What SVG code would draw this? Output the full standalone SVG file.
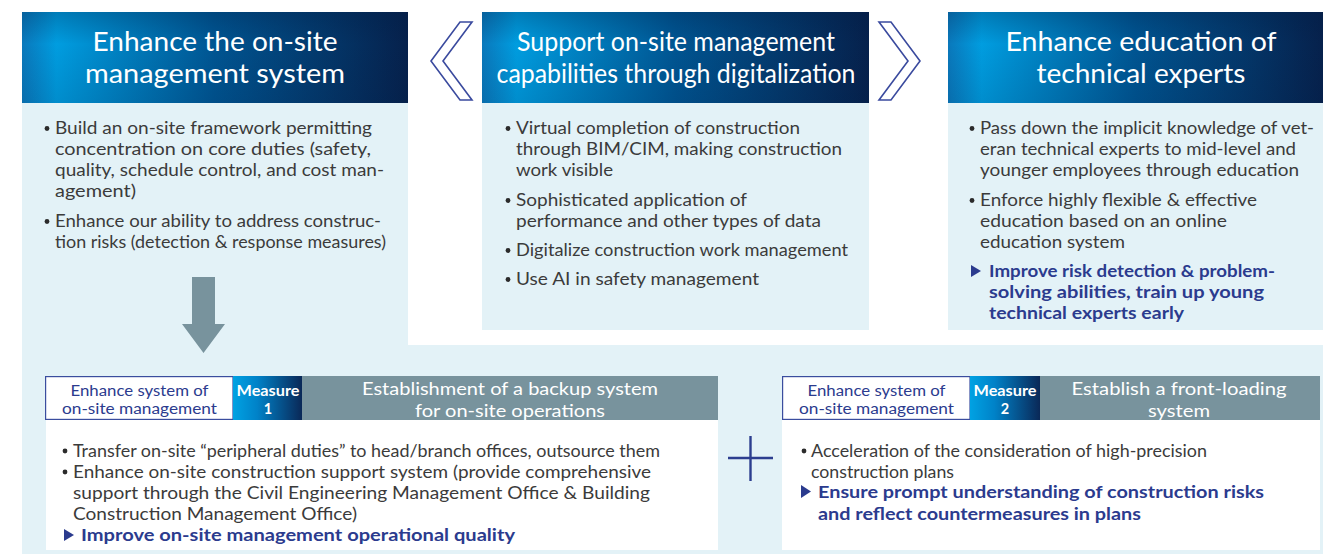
<svg xmlns="http://www.w3.org/2000/svg" width="1323" height="554" viewBox="0 0 1323 554">
  <defs>
    <linearGradient id="hdrGrad" x1="0" y1="0" x2="1" y2="0">
      <stop offset="0" stop-color="#0a78bb"/>
      <stop offset="0.09" stop-color="#009de0"/>
      <stop offset="0.5" stop-color="#005592"/>
      <stop offset="1" stop-color="#06214c"/>
    </linearGradient>
    <linearGradient id="hdrShade" x1="0" y1="0" x2="0" y2="1">
      <stop offset="0" stop-color="#001a40" stop-opacity="0.25"/>
      <stop offset="0.35" stop-color="#001a40" stop-opacity="0"/>
      <stop offset="1" stop-color="#001a40" stop-opacity="0.12"/>
    </linearGradient>
    <linearGradient id="measGrad" x1="0" y1="0" x2="1" y2="0">
      <stop offset="0" stop-color="#00a2e3"/>
      <stop offset="0.35" stop-color="#0082c8"/>
      <stop offset="1" stop-color="#0a2857"/>
    </linearGradient>
    <style>
      .panel { fill: #e3f2f7; }
      .hdr-title { font-family: Lato, "Open Sans", sans-serif; font-size: 26.5px; fill: #ffffff; text-anchor: middle; }
      .body { font-family: Lato, "Open Sans", sans-serif; font-size: 17px; fill: #3b3b3b; }
      .strong { font-family: Lato, "Open Sans", sans-serif; font-size: 17px; font-weight: bold; fill: #2b3b8e; }
      .tag { fill: #ffffff; stroke: #3a4d9e; stroke-width: 1.2; }
      .tag-text { font-family: Lato, "Open Sans", sans-serif; font-size: 14.5px; fill: #2b3b8e; text-anchor: middle; }
      .meas-text { font-family: Lato, "Open Sans", sans-serif; font-size: 14.5px; font-weight: bold; fill: #ffffff; text-anchor: middle; }
      .bar { fill: #78939d; }
      .bar-text { font-family: Lato, "Open Sans", sans-serif; font-size: 18px; fill: #ffffff; text-anchor: middle; }
      .card { fill: #ffffff; }
      .dot { fill: #2b2b2b; }
      .tri { fill: #2b3b8e; }
      .chev { fill: #ffffff; stroke: #3a4a9e; stroke-width: 1.6; stroke-linejoin: miter; }
      .fit { }
    </style>
  </defs>

  <!-- light background panels -->
  <rect class="panel" x="22" y="103" width="386" height="243"/>
  <rect class="panel" x="482" y="103" width="387" height="227"/>
  <rect class="panel" x="948" y="103" width="375" height="227"/>
  <rect class="panel" x="22" y="345" width="1301" height="209"/>

  <!-- Top column 1 -->
  <g id="onsite-system">
    <rect x="22" y="12" width="386" height="91" fill="url(#hdrGrad)"/>
    <rect x="22" y="12" width="386" height="91" fill="url(#hdrShade)"/>
    <text class="hdr-title" x="215" y="51" textLength="245" lengthAdjust="spacingAndGlyphs">Enhance the on-site</text>
    <text class="hdr-title" x="215" y="83" textLength="260" lengthAdjust="spacingAndGlyphs">management system</text>
    <circle class="dot" cx="47" cy="128.5" r="2.4"/>
    <text class="body" x="55" y="134" textLength="317" lengthAdjust="spacingAndGlyphs">Build an on-site framework permitting</text>
    <text class="body" x="55" y="155" textLength="316" lengthAdjust="spacingAndGlyphs">concentration on core duties (safety,</text>
    <text class="body" x="55" y="176" textLength="329" lengthAdjust="spacingAndGlyphs">quality, schedule control, and cost man-</text>
    <text class="body" x="55" y="197" textLength="81" lengthAdjust="spacingAndGlyphs">agement)</text>
    <circle class="dot" cx="47" cy="221.5" r="2.4"/>
    <text class="body" x="55" y="227" textLength="326" lengthAdjust="spacingAndGlyphs">Enhance our ability to address construc-</text>
    <text class="body" x="55" y="248" textLength="331" lengthAdjust="spacingAndGlyphs">tion risks (detection &amp; response measures)</text>
  </g>

  <!-- Top column 2 -->
  <g id="digitalization">
    <rect x="482" y="12" width="387" height="91" fill="url(#hdrGrad)"/>
    <rect x="482" y="12" width="387" height="91" fill="url(#hdrShade)"/>
    <text class="hdr-title" x="676" y="51" textLength="318" lengthAdjust="spacingAndGlyphs">Support on-site management</text>
    <text class="hdr-title" x="676" y="83" textLength="359" lengthAdjust="spacingAndGlyphs">capabilities through digitalization</text>
    <circle class="dot" cx="508" cy="128.5" r="2.4"/>
    <text class="body" x="516" y="134" textLength="284" lengthAdjust="spacingAndGlyphs">Virtual completion of construction</text>
    <text class="body" x="516" y="155" textLength="326" lengthAdjust="spacingAndGlyphs">through BIM/CIM, making construction</text>
    <text class="body" x="516" y="176" textLength="97" lengthAdjust="spacingAndGlyphs">work visible</text>
    <circle class="dot" cx="508" cy="200.5" r="2.4"/>
    <text class="body" x="516" y="206" textLength="231" lengthAdjust="spacingAndGlyphs">Sophisticated application of</text>
    <text class="body" x="516" y="227" textLength="305" lengthAdjust="spacingAndGlyphs">performance and other types of data</text>
    <circle class="dot" cx="508" cy="250.5" r="2.4"/>
    <text class="body" x="516" y="256" textLength="332" lengthAdjust="spacingAndGlyphs">Digitalize construction work management</text>
    <circle class="dot" cx="508" cy="279.5" r="2.4"/>
    <text class="body" x="516" y="285" textLength="243" lengthAdjust="spacingAndGlyphs">Use AI in safety management</text>
  </g>

  <!-- Top column 3 -->
  <g id="experts-education">
    <rect x="948" y="12" width="375" height="91" fill="url(#hdrGrad)"/>
    <rect x="948" y="12" width="375" height="91" fill="url(#hdrShade)"/>
    <text class="hdr-title" x="1141" y="51" textLength="271" lengthAdjust="spacingAndGlyphs">Enhance education of</text>
    <text class="hdr-title" x="1141" y="83" textLength="209" lengthAdjust="spacingAndGlyphs">technical experts</text>
    <circle class="dot" cx="972" cy="128.5" r="2.4"/>
    <text class="body" x="980" y="134" textLength="334" lengthAdjust="spacingAndGlyphs">Pass down the implicit knowledge of vet-</text>
    <text class="body" x="980" y="155" textLength="316" lengthAdjust="spacingAndGlyphs">eran technical experts to mid-level and</text>
    <text class="body" x="980" y="176" textLength="319" lengthAdjust="spacingAndGlyphs">younger employees through education</text>
    <circle class="dot" cx="972" cy="200.5" r="2.4"/>
    <text class="body" x="980" y="206" textLength="277" lengthAdjust="spacingAndGlyphs">Enforce highly flexible &amp; effective</text>
    <text class="body" x="980" y="227" textLength="247" lengthAdjust="spacingAndGlyphs">education based on an online</text>
    <text class="body" x="980" y="248" textLength="145" lengthAdjust="spacingAndGlyphs">education system</text>
    <polygon class="tri" points="971,265 981,271 971,277"/>
    <text class="strong" x="989" y="277" textLength="286" lengthAdjust="spacingAndGlyphs">Improve risk detection &amp; problem-</text>
    <text class="strong" x="989" y="298" textLength="275" lengthAdjust="spacingAndGlyphs">solving abilities, train up young</text>
    <text class="strong" x="989" y="319" textLength="195" lengthAdjust="spacingAndGlyphs">technical experts early</text>
  </g>

  <!-- Measure 1 card -->
  <g id="measure-1">
    <rect class="card" x="46" y="420" width="672" height="130"/>
    <rect class="tag" x="45.6" y="376.6" width="187.4" height="42.8"/>
    <text class="tag-text" x="139.5" y="396" textLength="138" lengthAdjust="spacingAndGlyphs">Enhance system of</text>
    <text class="tag-text" x="139.5" y="414" textLength="155" lengthAdjust="spacingAndGlyphs">on-site management</text>
    <rect x="233" y="376" width="69" height="44" fill="url(#measGrad)"/>
    <text class="meas-text" x="268" y="396" textLength="63" lengthAdjust="spacingAndGlyphs">Measure</text>
    <text class="meas-text" x="268" y="414">1</text>
    <rect class="bar" x="302" y="376" width="416" height="44"/>
    <text class="bar-text" x="510" y="395" textLength="296" lengthAdjust="spacingAndGlyphs">Establishment of a backup system</text>
    <text class="bar-text" x="510" y="417" textLength="190" lengthAdjust="spacingAndGlyphs">for on-site operations</text>
    <circle class="dot" cx="65" cy="451" r="2.4"/>
    <text class="body" x="73" y="457" textLength="587" lengthAdjust="spacingAndGlyphs">Transfer on-site “peripheral duties” to head/branch offices, outsource them</text>
    <circle class="dot" cx="65" cy="472" r="2.4"/>
    <text class="body" x="73" y="478" textLength="578" lengthAdjust="spacingAndGlyphs">Enhance on-site construction support system (provide comprehensive</text>
    <text class="body" x="73" y="499" textLength="577" lengthAdjust="spacingAndGlyphs">support through the Civil Engineering Management Office &amp; Building</text>
    <text class="body" x="73" y="520" textLength="284" lengthAdjust="spacingAndGlyphs">Construction Management Office)</text>
    <polygon class="tri" points="64,529 74,535 64,541"/>
    <text class="strong" x="81" y="541" textLength="434" lengthAdjust="spacingAndGlyphs">Improve on-site management operational quality</text>
  </g>

  <!-- Measure 2 card -->
  <g id="measure-2">
    <rect class="card" x="782" y="420" width="538" height="130"/>
    <rect class="tag" x="782.6" y="376.6" width="187.4" height="42.8"/>
    <text class="tag-text" x="876.5" y="396" textLength="138" lengthAdjust="spacingAndGlyphs">Enhance system of</text>
    <text class="tag-text" x="876.5" y="414" textLength="155" lengthAdjust="spacingAndGlyphs">on-site management</text>
    <rect x="970" y="376" width="70" height="44" fill="url(#measGrad)"/>
    <text class="meas-text" x="1005" y="396" textLength="63" lengthAdjust="spacingAndGlyphs">Measure</text>
    <text class="meas-text" x="1005" y="414">2</text>
    <rect class="bar" x="1040" y="376" width="280" height="44"/>
    <text class="bar-text" x="1179" y="395" textLength="215" lengthAdjust="spacingAndGlyphs">Establish a front-loading</text>
    <text class="bar-text" x="1179" y="417" textLength="62" lengthAdjust="spacingAndGlyphs">system</text>
    <circle class="dot" cx="804" cy="451" r="2.4"/>
    <text class="body" x="811" y="457" textLength="396" lengthAdjust="spacingAndGlyphs">Acceleration of the consideration of high-precision</text>
    <text class="body" x="811" y="478" textLength="143" lengthAdjust="spacingAndGlyphs">construction plans</text>
    <polygon class="tri" points="801,485 811,491.5 801,498"/>
    <text class="strong" x="818" y="498" textLength="446" lengthAdjust="spacingAndGlyphs">Ensure prompt understanding of construction risks</text>
    <text class="strong" x="818" y="520" textLength="323" lengthAdjust="spacingAndGlyphs">and reflect countermeasures in plans</text>
  </g>

  <!-- connectors: chevrons, arrow and plus -->
  <g id="connectors">
    <polygon class="chev" points="460,22 472,22 443,61 472,100 460,100 431,61"/>
    <polygon class="chev" points="891,22 879,22 908,61 879,100 891,100 920,61"/>
    <polygon points="192,277 215,277 215,324 225,324 203.5,353 182,324 192,324" fill="#78939d"/>
    <line x1="728" y1="458" x2="773" y2="458" stroke="#2c3e8f" stroke-width="2.4"/>
    <line x1="750.5" y1="436" x2="750.5" y2="481" stroke="#2c3e8f" stroke-width="2.4"/>
  </g>
</svg>
